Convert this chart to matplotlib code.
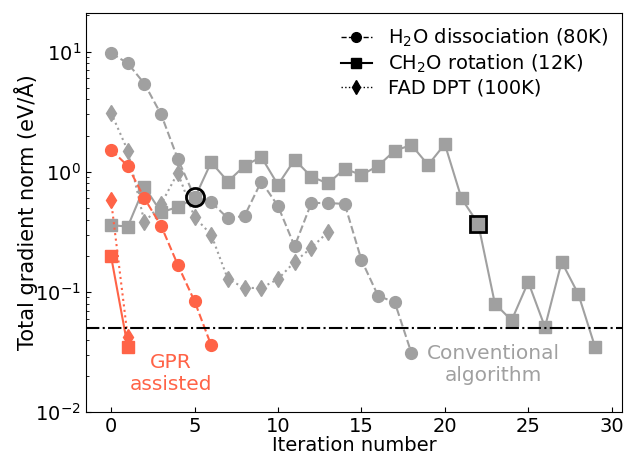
import matplotlib
matplotlib.use("Agg")
import matplotlib.pyplot as plt
from matplotlib.lines import Line2D

# conventional algorithm (gray)
h2o_conv = [9.7, 8.0, 5.4, 3.0, 1.28, 0.62, 0.56, 0.41, 0.43, 0.83, 0.52,
            0.24, 0.55, 0.55, 0.54, 0.185, 0.093, 0.082, 0.031]
ch2o_conv = [0.36, 0.35, 0.75, 0.46, 0.51, 0.60, 1.2, 0.83, 1.12, 1.33, 0.78,
             1.26, 0.91, 0.80, 1.06, 0.94, 1.12, 1.5, 1.67, 1.14, 1.7, 0.60,
             0.37, 0.080, 0.058, 0.121, 0.051, 0.178, 0.096, 0.035]
fad_conv = [3.1, 1.5, 0.38, 0.54, 0.98, 0.42, 0.30, 0.128, 0.108, 0.108,
            0.128, 0.178, 0.233, 0.316]

# GPR assisted (red)
h2o_gpr = [1.52, 1.12, 0.60, 0.355, 0.168, 0.084, 0.036]
ch2o_gpr = [0.198, 0.035]
fad_gpr = [0.58, 0.042]

threshold = 0.05
# highlighted points (iteration, value)
h2o_mark = (5, 0.62)
ch2o_mark = (22, 0.37)

gray = "#A0A0A0"
red = "#FF6347"

plt.rcParams["font.family"] = "DejaVu Sans"
plt.rcParams["font.size"] = 14

fig = plt.figure(figsize=(6.28, 4.59), dpi=100)
ax = fig.add_axes([0.137, 0.102, 0.853, 0.870])

kw = dict(lw=1.5)
ax.plot(range(len(h2o_conv)), h2o_conv, "--o", color=gray, ms=8.5, **kw)
ax.plot(range(len(ch2o_conv)), ch2o_conv, "-s", color=gray, ms=8, **kw)
ax.plot(range(len(fad_conv)), fad_conv, ":d", color=gray, ms=8.5, **kw)

ax.plot(range(len(h2o_gpr)), h2o_gpr, "--o", color=red, ms=8.5, **kw)
ax.plot(range(len(ch2o_gpr)), ch2o_gpr, "-s", color=red, ms=8, **kw)
ax.plot(range(len(fad_gpr)), fad_gpr, ":d", color=red, ms=8.5, **kw)

ax.plot(*h2o_mark, "o", ms=13, mfc="none", mec="black", mew=2)
ax.plot(*ch2o_mark, "s", ms=11, mfc="none", mec="black", mew=2)

ax.axhline(threshold, color="black", ls="-.", lw=1.5)

ax.text(3.6, 0.021, "GPR\nassisted", color=red, ha="center", va="center",
        fontsize=14.5)
ax.text(22.9, 0.025, "Conventional\nalgorithm", color=gray, ha="center",
        va="center", fontsize=14.5)

ax.set_yscale("log")
ax.set_ylim(1e-2, 21)
ax.set_xlim(-1.5, 30.6)
ax.set_xticks([0, 5, 10, 15, 20, 25, 30])
ax.tick_params(which="both", direction="in", labelsize=14)
ax.set_xlabel("Iteration number", labelpad=0)
ax.set_ylabel("Total gradient norm (eV/Å)", fontsize=15, labelpad=-2)

handles = [
    Line2D([], [], color="black", ls="--", marker="o", lw=1, ms=7),
    Line2D([], [], color="black", ls="-", marker="s", lw=1.5, ms=7),
    Line2D([], [], color="black", ls=":", marker="d", lw=1, ms=7),
]
labels = ["H$_2$O dissociation (80K)", "CH$_2$O rotation (12K)",
          "FAD DPT (100K)"]
ax.legend(handles, labels, loc="upper right", frameon=False,
          handlelength=1.6, labelspacing=0.2, borderaxespad=0.3)

fig.savefig("out.png", dpi=100)
